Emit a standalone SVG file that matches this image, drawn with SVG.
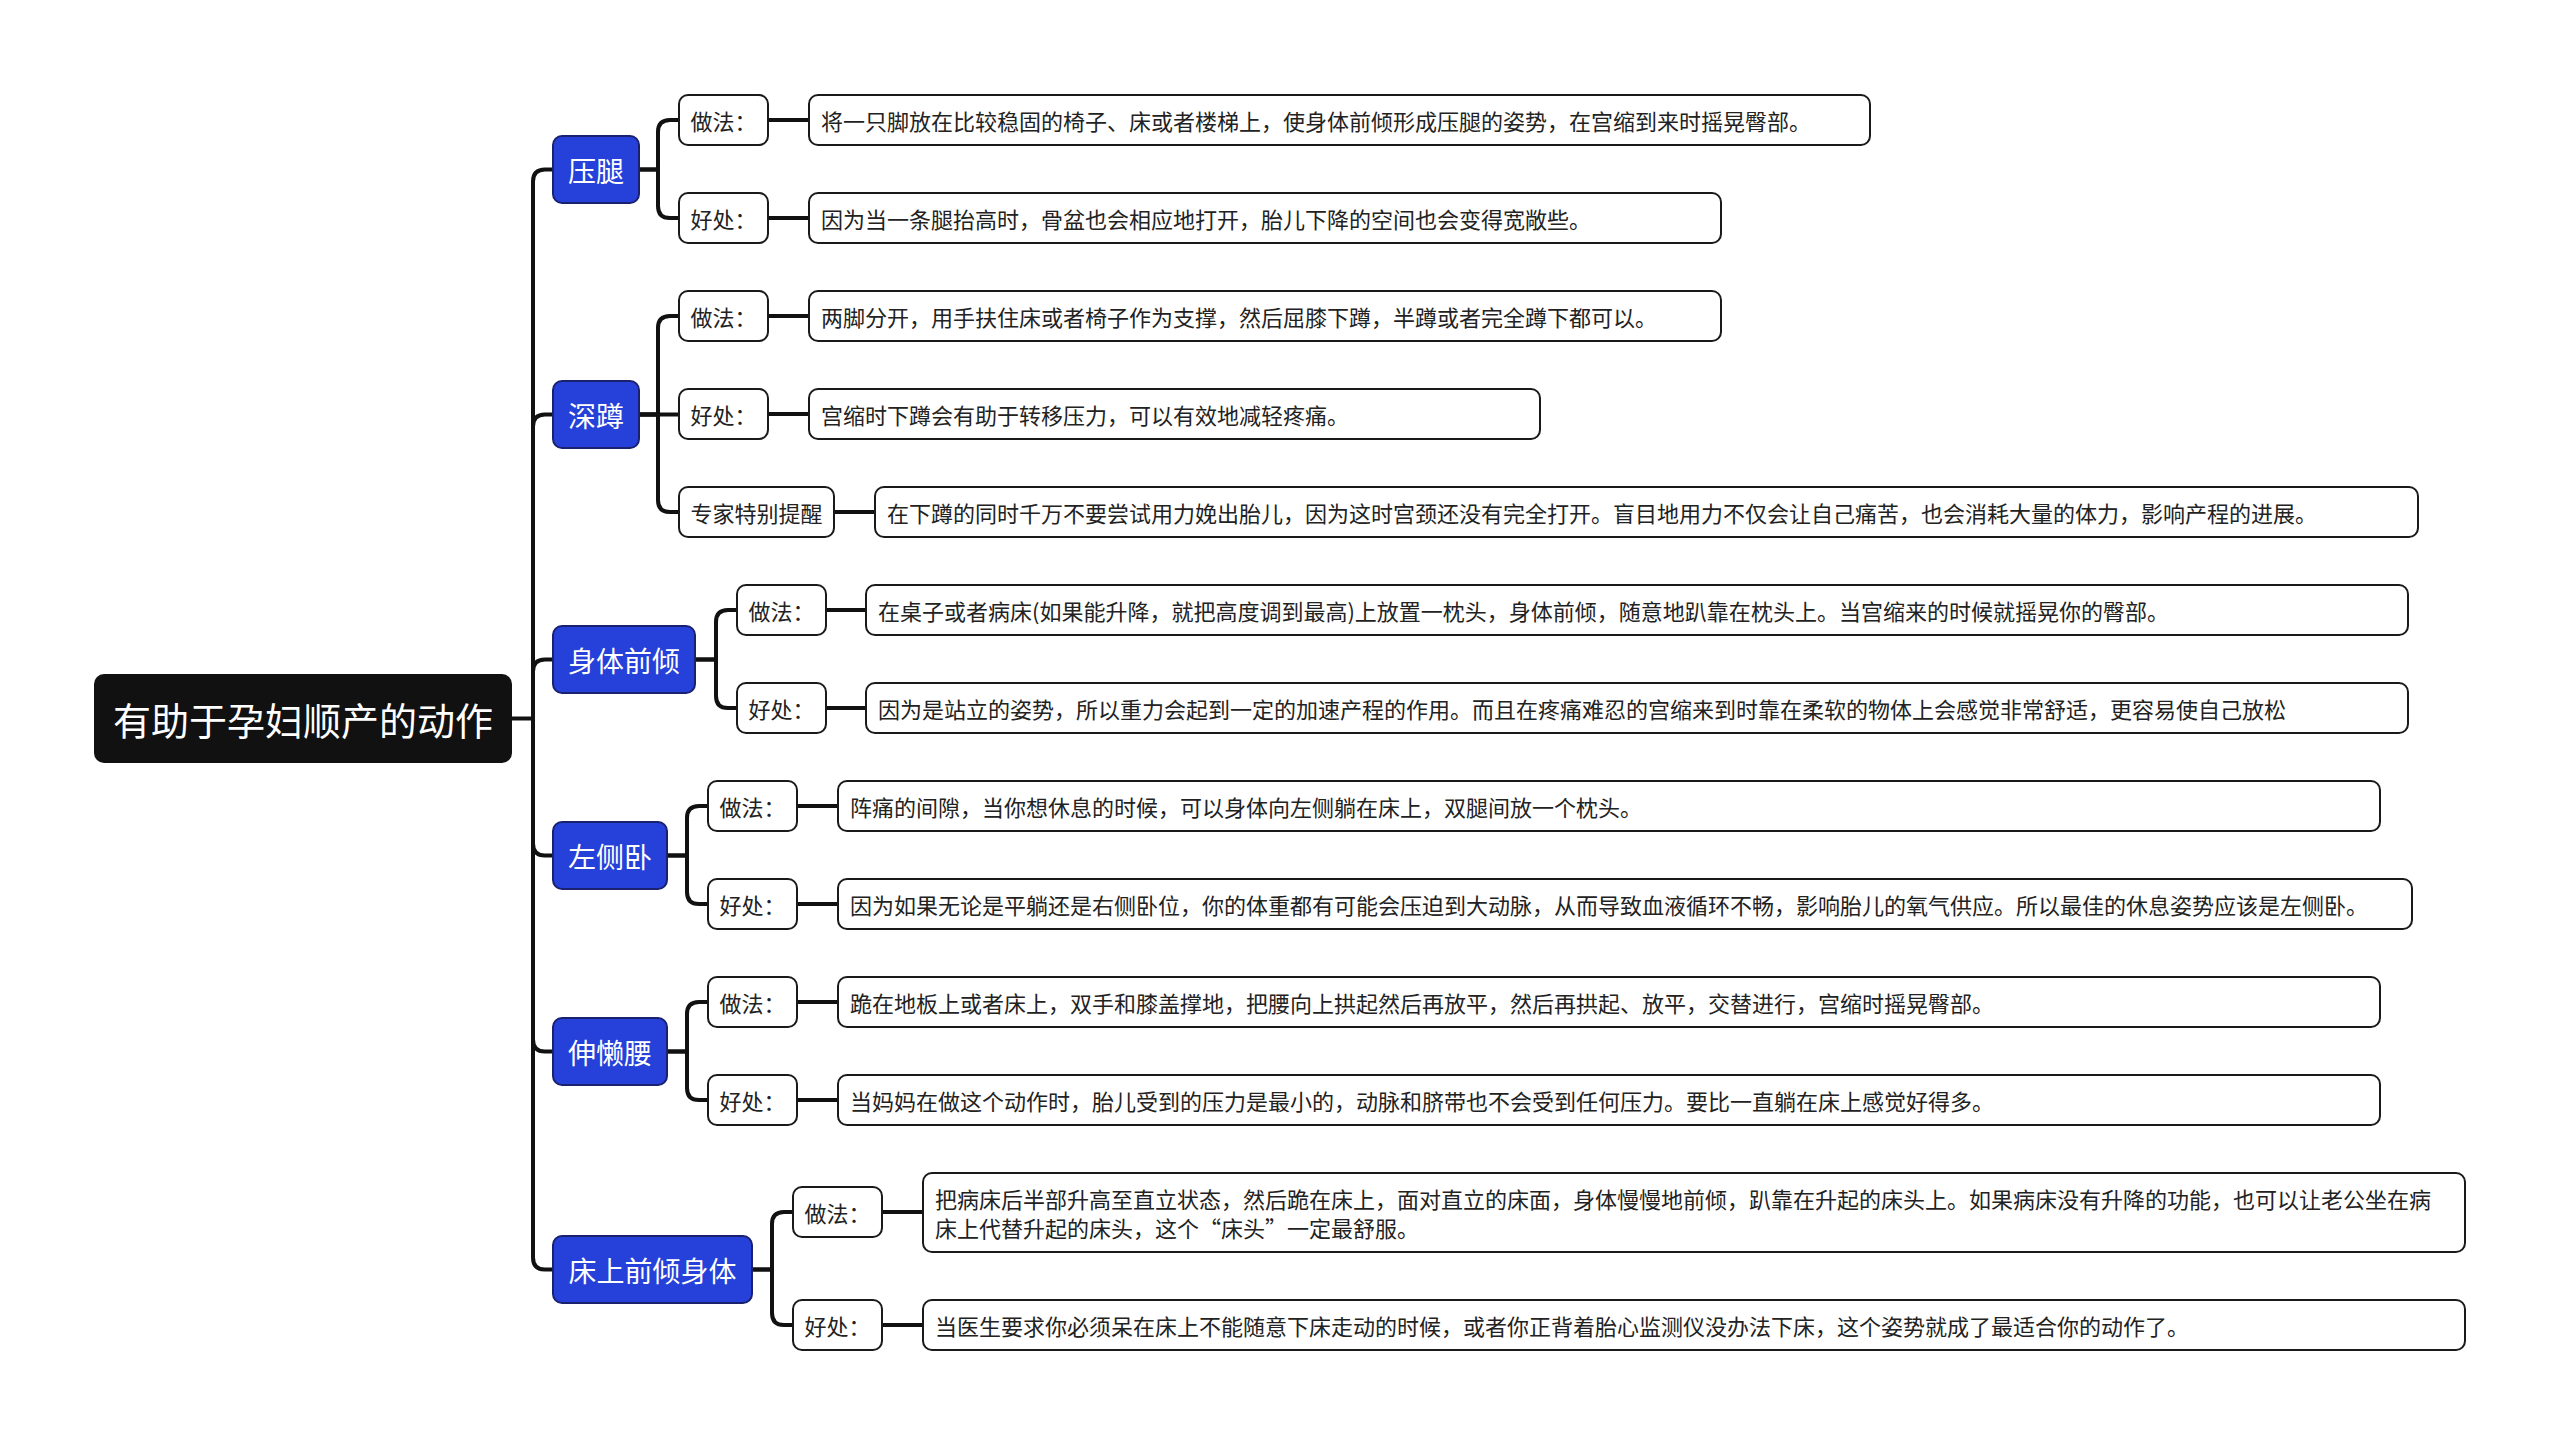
<svg xmlns="http://www.w3.org/2000/svg" width="2560" height="1445" viewBox="0 0 2560 1445">
<style>
text{font-family:"Noto Sans CJK SC","Noto Sans",sans-serif;dominant-baseline:central}
.root rect{fill:#111}
.root text{fill:#fff;font-size:38px;text-anchor:middle}
.l1 rect{fill:#2541d9;stroke:#1a2270;stroke-width:2}
.l1 text{fill:#fff;font-size:28px;text-anchor:middle}
.l2 rect{fill:#fff;stroke:#1a1a1a;stroke-width:2}
.l2 text{fill:#222;font-size:22px;text-anchor:middle}
.d rect{fill:#fff;stroke:#1a1a1a;stroke-width:2}
.d text{fill:#222;font-size:22px}
.c path{fill:none;stroke:#111;stroke-width:4}
</style>
<rect width="2560" height="1445" fill="#fff"/>
<g class="c" id="connectors">
<path d="M512 718.5 H533" stroke-width="3"/>
<path d="M533 718.5 V181.5 Q533 169.5 545 169.5 H553"/>
<path d="M533 718.5 V426.5 Q533 414.5 545 414.5 H553"/>
<path d="M533 718.5 V671.5 Q533 659.5 545 659.5 H553"/>
<path d="M533 718.5 V843.5 Q533 855.5 545 855.5 H553"/>
<path d="M533 718.5 V1039.5 Q533 1051.5 545 1051.5 H553"/>
<path d="M533 718.5 V1257.5 Q533 1269.5 545 1269.5 H553"/>
<path d="M639 169.5 H658 V132 Q658 120 670 120 H679"/>
<path d="M639 169.5 H658 V206 Q658 218 670 218 H679"/>
<path d="M639 414.5 H658 V328 Q658 316 670 316 H679"/>
<path d="M639 414.5 H679"/>
<path d="M639 414.5 H658 V500 Q658 512 670 512 H679"/>
<path d="M695 659.5 H716 V622 Q716 610 728 610 H737"/>
<path d="M695 659.5 H716 V696 Q716 708 728 708 H737"/>
<path d="M667 855.5 H687 V818 Q687 806 699 806 H708"/>
<path d="M667 855.5 H687 V892 Q687 904 699 904 H708"/>
<path d="M667 1051.5 H687 V1014 Q687 1002 699 1002 H708"/>
<path d="M667 1051.5 H687 V1088 Q687 1100 699 1100 H708"/>
<path d="M752 1269.5 H772 V1224 Q772 1212 784 1212 H793"/>
<path d="M752 1269.5 H772 V1313 Q772 1325 784 1325 H793"/>
<path d="M768 120 H809"/>
<path d="M768 218 H809"/>
<path d="M768 316 H809"/>
<path d="M768 414 H809"/>
<path d="M834 512 H875"/>
<path d="M826 610 H866"/>
<path d="M826 708 H866"/>
<path d="M797 806 H838"/>
<path d="M797 904 H838"/>
<path d="M797 1002 H838"/>
<path d="M797 1100 H838"/>
<path d="M882 1212 H923"/>
<path d="M882 1325 H923"/>
</g>
<g class="root" id="root"><rect x="94" y="674" width="418" height="89" rx="10"/><text x="303" y="718.5">有助于孕妇顺产的动作</text></g>
<g class="l1" id="n1"><rect x="553" y="136" width="86" height="67" rx="9"/><text x="596" y="169.5">压腿</text></g>
<g class="l1" id="n2"><rect x="553" y="381" width="86" height="67" rx="9"/><text x="596" y="414.5">深蹲</text></g>
<g class="l1" id="n3"><rect x="553" y="626" width="142" height="67" rx="9"/><text x="624" y="659.5">身体前倾</text></g>
<g class="l1" id="n4"><rect x="553" y="822" width="114" height="67" rx="9"/><text x="610" y="855.5">左侧卧</text></g>
<g class="l1" id="n5"><rect x="553" y="1018" width="114" height="67" rx="9"/><text x="610" y="1051.5">伸懒腰</text></g>
<g class="l1" id="n6"><rect x="553" y="1236" width="199" height="67" rx="9"/><text x="652.5" y="1269.5">床上前倾身体</text></g>
<g class="l2" id="n1a"><rect x="679" y="95" width="89" height="50" rx="9"/><text x="723.5" y="120">做法：</text></g>
<g class="l2" id="n1b"><rect x="679" y="193" width="89" height="50" rx="9"/><text x="723.5" y="218">好处：</text></g>
<g class="l2" id="n2a"><rect x="679" y="291" width="89" height="50" rx="9"/><text x="723.5" y="316">做法：</text></g>
<g class="l2" id="n2b"><rect x="679" y="389" width="89" height="50" rx="9"/><text x="723.5" y="414">好处：</text></g>
<g class="l2" id="n2c"><rect x="679" y="487" width="155" height="50" rx="9"/><text x="756.5" y="512">专家特别提醒</text></g>
<g class="l2" id="n3a"><rect x="737" y="585" width="89" height="50" rx="9"/><text x="781.5" y="610">做法：</text></g>
<g class="l2" id="n3b"><rect x="737" y="683" width="89" height="50" rx="9"/><text x="781.5" y="708">好处：</text></g>
<g class="l2" id="n4a"><rect x="708" y="781" width="89" height="50" rx="9"/><text x="752.5" y="806">做法：</text></g>
<g class="l2" id="n4b"><rect x="708" y="879" width="89" height="50" rx="9"/><text x="752.5" y="904">好处：</text></g>
<g class="l2" id="n5a"><rect x="708" y="977" width="89" height="50" rx="9"/><text x="752.5" y="1002">做法：</text></g>
<g class="l2" id="n5b"><rect x="708" y="1075" width="89" height="50" rx="9"/><text x="752.5" y="1100">好处：</text></g>
<g class="l2" id="n6a"><rect x="793" y="1187" width="89" height="50" rx="9"/><text x="837.5" y="1212">做法：</text></g>
<g class="l2" id="n6b"><rect x="793" y="1300" width="89" height="50" rx="9"/><text x="837.5" y="1325">好处：</text></g>
<g class="d" id="d1a"><rect x="809" y="95" width="1061" height="50" rx="9"/><text x="821" y="120">将一只脚放在比较稳固的椅子、床或者楼梯上，使身体前倾形成压腿的姿势，在宫缩到来时摇晃臀部。</text></g>
<g class="d" id="d1b"><rect x="809" y="193" width="912" height="50" rx="9"/><text x="821" y="218">因为当一条腿抬高时，骨盆也会相应地打开，胎儿下降的空间也会变得宽敞些。</text></g>
<g class="d" id="d2a"><rect x="809" y="291" width="912" height="50" rx="9"/><text x="821" y="316">两脚分开，用手扶住床或者椅子作为支撑，然后屈膝下蹲，半蹲或者完全蹲下都可以。</text></g>
<g class="d" id="d2b"><rect x="809" y="389" width="731" height="50" rx="9"/><text x="821" y="414">宫缩时下蹲会有助于转移压力，可以有效地减轻疼痛。</text></g>
<g class="d" id="d2c"><rect x="875" y="487" width="1543" height="50" rx="9"/><text x="887" y="512">在下蹲的同时千万不要尝试用力娩出胎儿，因为这时宫颈还没有完全打开。盲目地用力不仅会让自己痛苦，也会消耗大量的体力，影响产程的进展。</text></g>
<g class="d" id="d3a"><rect x="866" y="585" width="1542" height="50" rx="9"/><text x="878" y="610">在桌子或者病床(如果能升降，就把高度调到最高)上放置一枕头，身体前倾，随意地趴靠在枕头上。当宫缩来的时候就摇晃你的臀部。</text></g>
<g class="d" id="d3b"><rect x="866" y="683" width="1542" height="50" rx="9"/><text x="878" y="708">因为是站立的姿势，所以重力会起到一定的加速产程的作用。而且在疼痛难忍的宫缩来到时靠在柔软的物体上会感觉非常舒适，更容易使自己放松</text></g>
<g class="d" id="d4a"><rect x="838" y="781" width="1542" height="50" rx="9"/><text x="850" y="806">阵痛的间隙，当你想休息的时候，可以身体向左侧躺在床上，双腿间放一个枕头。</text></g>
<g class="d" id="d4b"><rect x="838" y="879" width="1574" height="50" rx="9"/><text x="850" y="904">因为如果无论是平躺还是右侧卧位，你的体重都有可能会压迫到大动脉，从而导致血液循环不畅，影响胎儿的氧气供应。所以最佳的休息姿势应该是左侧卧。</text></g>
<g class="d" id="d5a"><rect x="838" y="977" width="1542" height="50" rx="9"/><text x="850" y="1002">跪在地板上或者床上，双手和膝盖撑地，把腰向上拱起然后再放平，然后再拱起、放平，交替进行，宫缩时摇晃臀部。</text></g>
<g class="d" id="d5b"><rect x="838" y="1075" width="1542" height="50" rx="9"/><text x="850" y="1100">当妈妈在做这个动作时，胎儿受到的压力是最小的，动脉和脐带也不会受到任何压力。要比一直躺在床上感觉好得多。</text></g>
<g class="d" id="d6a"><rect x="923" y="1173" width="1542" height="79" rx="9"/><text x="935" y="1198">把病床后半部升高至直立状态，然后跪在床上，面对直立的床面，身体慢慢地前倾，趴靠在升起的床头上。如果病床没有升降的功能，也可以让老公坐在病</text><text x="935" y="1227">床上代替升起的床头，这个“床头”一定最舒服。</text></g>
<g class="d" id="d6b"><rect x="923" y="1300" width="1542" height="50" rx="9"/><text x="935" y="1325">当医生要求你必须呆在床上不能随意下床走动的时候，或者你正背着胎心监测仪没办法下床，这个姿势就成了最适合你的动作了。</text></g>
</svg>
